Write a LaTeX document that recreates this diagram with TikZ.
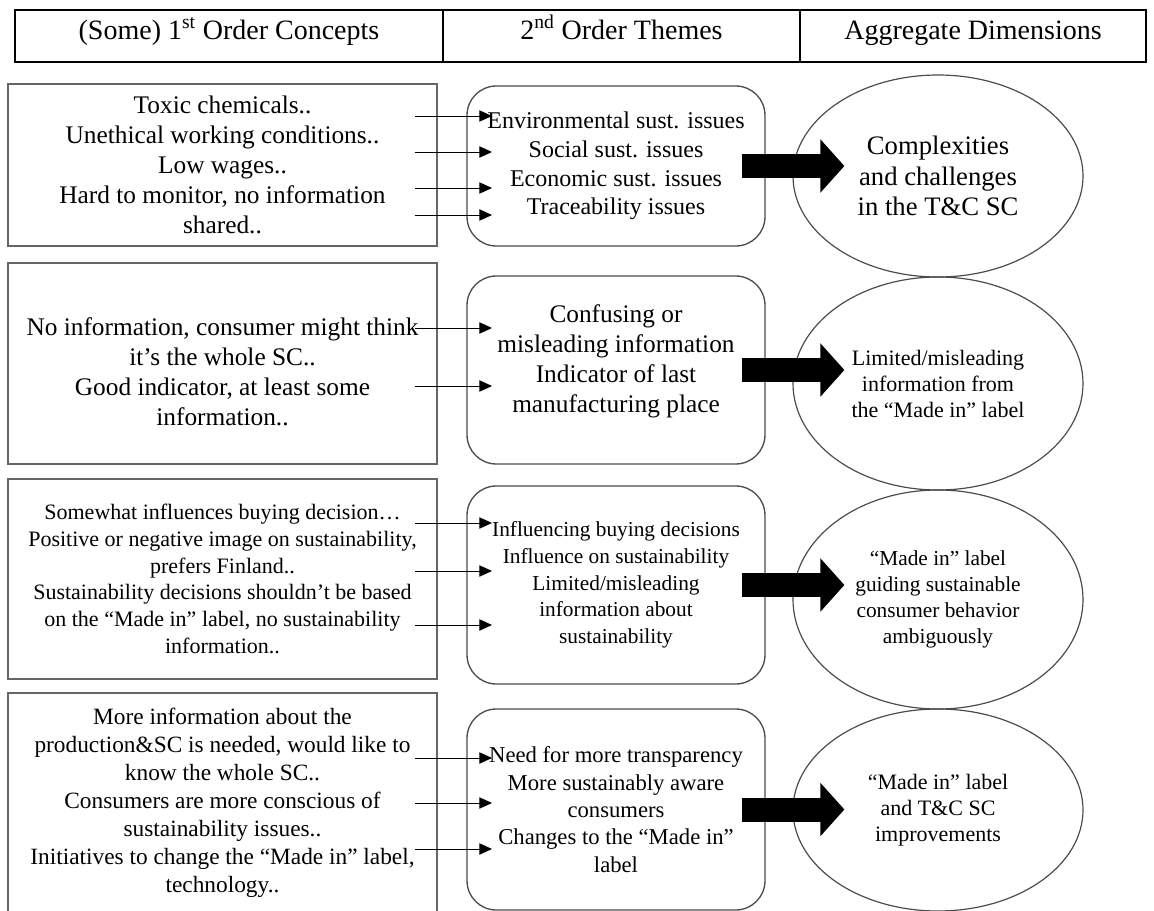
\documentclass[tikz,border=0pt]{standalone}
\usepackage{fontspec}
\setmainfont{Liberation Serif}
\usetikzlibrary{arrows.meta,shapes.geometric}

\tikzset{
  concept/.style={draw=black!60, line width=1.3pt, minimum width=321.75pt, align=center, inner sep=0pt},
  theme/.style={draw=black!70, line width=1pt, rounded corners=22pt, minimum width=223.5pt, align=center, inner sep=0pt},
  dimension/.style={draw=black!70, line width=0.9pt, ellipse, minimum width=217.5pt, align=center, inner sep=0pt},
  thinarrow/.style={-{Triangle[length=9.5pt,width=8.5pt]}, line width=0.7pt},
  bigarrow/.style={line width=18pt, -{Triangle[length=18pt,width=39pt]}},
  headtext/.style={anchor=base, inner sep=0pt, font=\fontsize{21}{25}\selectfont}
}

\begin{document}
\begin{tikzpicture}[x=0.75pt,y=-0.75pt]
    \useasboundingbox (0,0) rectangle (1154,911);

    % header row
    \draw[line width=1.4pt] (15,10) rectangle (1146,62);
    \draw[line width=1.4pt] (443,10) -- (443,62);
    \draw[line width=1.4pt] (800,10) -- (800,62);
    \node[headtext] (h1) at (229,39)   {(Some) 1\textsuperscript{st} Order Concepts};
    \node[headtext] (h2) at (621.5,39) {2\textsuperscript{nd} Order Themes};
    \node[headtext] (h3) at (973,39)   {Aggregate Dimensions};

    % first order concepts
    \node[concept, minimum height=121.5pt, font=\fontsize{19}{22.5}\selectfont] (c1) at (222.5,165) {Toxic chemicals..\\Unethical working conditions..\\Low wages..\\Hard to monitor, no information\\shared..};
    \node[concept, minimum height=150.75pt, font=\fontsize{19}{22.5}\selectfont] (c2) at (222.5,363.5) {\mbox{}\\[3pt]No information, consumer might think\\it’s the whole SC..\\Good indicator, at least some\\information..};
    \node[concept, minimum height=150pt, font=\fontsize{16.5}{20}\selectfont] (c3) at (222.5,579) {Somewhat influences buying decision…\\Positive or negative image on sustainability,\\prefers Finland..\\Sustainability decisions shouldn’t be based\\on the “Made in” label, no sustainability\\information..};
    \node[concept, minimum height=165pt, font=\fontsize{17.5}{21}\selectfont] (c4) at (222.5,803) {More information about the\\production\&SC is needed, would like to\\know the whole SC..\\Consumers are more conscious of\\sustainability issues..\\Initiatives to change the “Made in” label,\\technology..};

    % second order themes
    \node[theme, minimum height=120pt, font=\fontsize{18}{21.5}\selectfont] (t1) at (616,166) {Environmental sust. issues\\Social sust. issues\\Economic sust. issues\\Traceability issues};
    \node[theme, minimum height=141pt, font=\fontsize{19}{22.5}\selectfont] (t2) at (616,370) {Confusing or\\misleading information\\Indicator of last\\manufacturing place\\[-6pt]\mbox{}};
    \node[theme, minimum height=148.5pt, font=\fontsize{16}{20}\selectfont] (t3) at (616,585) {Influencing buying decisions\\Influence on sustainability\\Limited/misleading\\information about\\sustainability};
    \node[theme, minimum height=150.75pt, font=\fontsize{17}{20.5}\selectfont] (t4) at (616,809.5) {Need for more transparency\\More sustainably aware\\consumers\\Changes to the “Made in”\\label};

    % aggregate dimensions
    \node[dimension, minimum height=151.5pt, font=\fontsize{20}{23}\selectfont] (d1) at (938,176) {Complexities\\and challenges\\in the T\&C SC};
    \node[dimension, minimum height=159.75pt, font=\fontsize{16.5}{19.5}\selectfont] (d2) at (938,383.5) {Limited/misleading\\information from\\the “Made in” label};
    \node[dimension, minimum height=164.25pt, font=\fontsize{16}{19.5}\selectfont] (d3) at (938,599.5) {“Made in” label\\guiding sustainable\\consumer behavior\\ambiguously};
    \node[dimension, minimum height=151.5pt, font=\fontsize{16.5}{19.5}\selectfont] (d4) at (938,810) {“Made in” label\\and T\&C SC\\improvements};

    % concepts to themes
    \foreach \i/\y in {a/116,b/152,c/188,d/215,e/328,f/386,g/523,h/571,i/625,j/758,k/803,l/849} {
        \coordinate (from\i) at (415,\y);
        \coordinate (to\i) at (492,\y);
        \draw[thinarrow] (from\i) -- (to\i);
    }

    % themes to dimensions
    \foreach \n in {1,...,4}
        \draw[bigarrow, shorten <=-18pt, shorten >=-39pt] (t\n.east) -- (t\n.east -| d\n.west);
\end{tikzpicture}
\end{document}
